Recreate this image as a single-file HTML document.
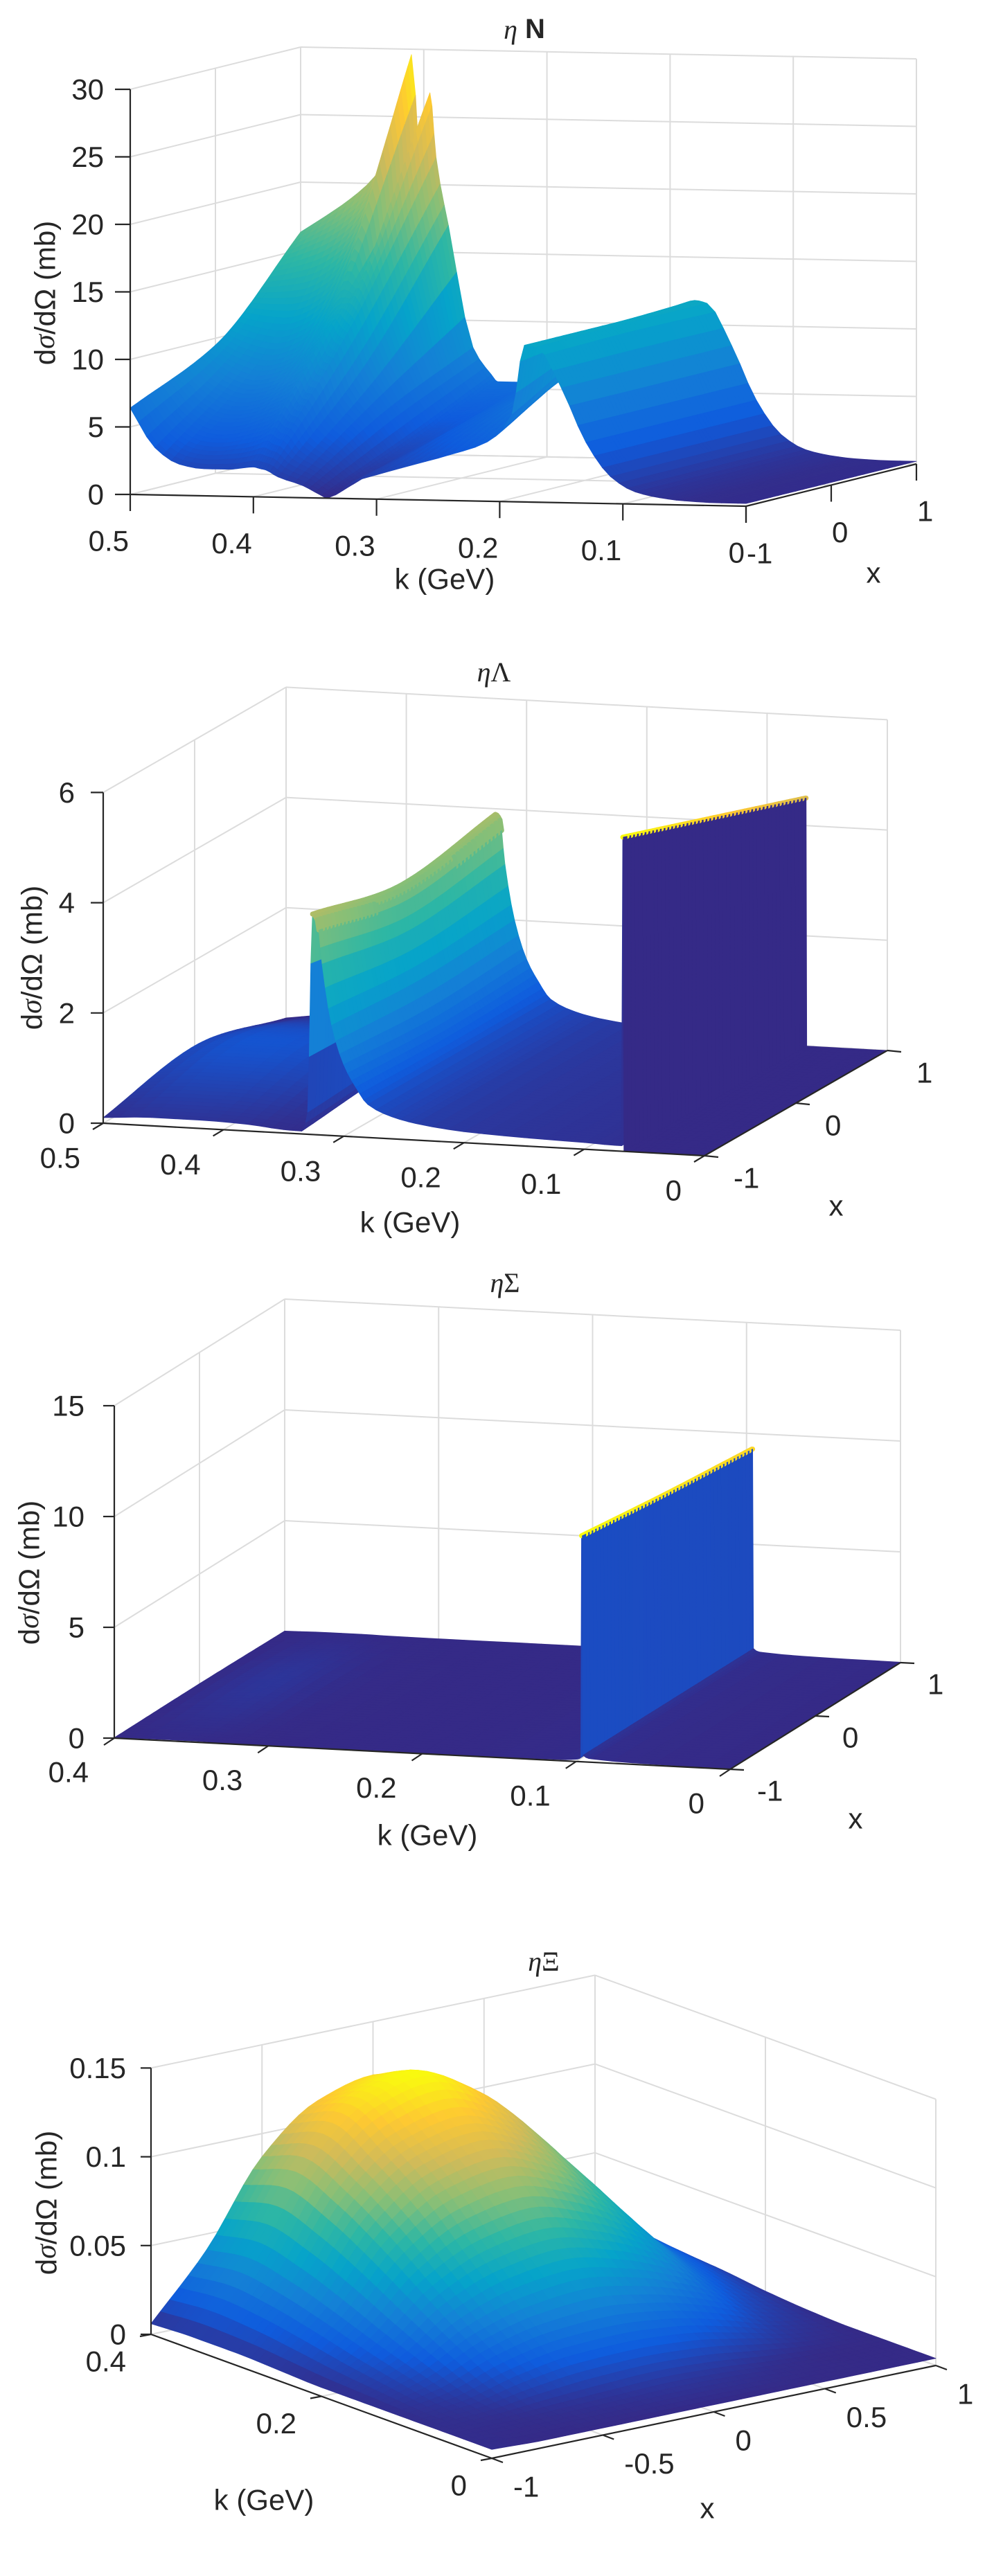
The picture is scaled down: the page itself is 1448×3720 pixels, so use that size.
<!DOCTYPE html>
<html><head><meta charset="utf-8"><title>Differential cross sections</title>
<style>
html,body{margin:0;padding:0;background:#fff;}
svg{display:block;}
text{font-family:"Liberation Sans",sans-serif;fill:#262626;}
</style></head>
<body>
<svg id="fig" width="1448" height="3720" viewBox="0 0 1448 3720" xmlns="http://www.w3.org/2000/svg">
<rect x="0" y="0" width="1448" height="3720" fill="#fff"/>
<g id="p1"></g>
<g id="p2"></g>
<g id="p3"></g>
<g id="p4"></g>
</svg>
<script>
// ---------- data: eta N ----------
const N_k = [0.5,0.48,0.46,0.44,0.42,0.41,0.40,0.395,0.39,0.38,0.36,0.345,0.34,0.32,0.30,0.27,0.24,0.21,0.19,0.18,0.17,0.15,0.13,0.11,0.09,0.07,0.05,0.02,0];
const N_x = [-1,0,1];
const N_zXm1 = [6.4,3.5,2.3,2.0,2.0,2.1,2.2,2.1,2.0,1.5,0.9,0.2,0.0,1.2,1.8,2.6,3.4,4.4,6.5,11.6,11.5,8.5,4.5,2.0,0.9,0.5,0.3,0.2,0.2];
const N_zX0  = [9.5,8.5,8,8.5,10,11,12,11.5,11,8,5,3,2.5,3,4,5.2,6.5,8,10,11.6,11.6,8.5,4.5,2,0.9,0.5,0.3,0.2,0.2];
const N_zX1  = [16.3,17.5,18.8,20.5,24,29.6,18,26.8,22,17,8,6,5.5,5.5,6,7,8.5,10,11.5,11.8,11.6,8.5,4.5,2,0.9,0.5,0.3,0.2,0.2];
const N_kTicks = [0.5,0.4,0.3,0.2,0.1,0];
const N_xTicks = [-1,0,1];
const N_zTicks = [0,5,10,15,20,25,30];
const N_kLabels = ['0.5','0.4','0.3','0.2','0.1','0'];
const N_xLabels = ['-1','0','1'];
const N_zLabels = ['0','5','10','15','20','25','30'];
// ---------- data: eta Lambda ----------
const L_k = [0.5,0.46,0.42,0.38,0.35,0.335,0.33,0.326,0.322,0.318,0.31,0.30,0.29,0.28,0.26,0.24,0.2,0.15,0.1,0.075,0.069,0.068,0.0675,0.067,0.05,0.03,0];
const L_x = [-1,0,1];
const L_zXm1 = [0.1,0.15,0.15,0.12,0.06,0.05,0.4,4.0,3.9,3.1,2.0,1.3,0.9,0.6,0.4,0.3,0.2,0.15,0.12,0.1,0.1,5.7,5.7,0.0,0.0,0,0];
const L_zX0  = [0.45,0.6,0.6,0.5,0.3,0.2,0.5,3.6,3.5,2.8,1.9,1.2,0.85,0.6,0.4,0.3,0.2,0.15,0.12,0.1,0.1,5.1,5.1,0,0,0,0];
const L_zX1  = [0.0,0.1,0.1,0.1,0.08,0.1,0.5,3.9,3.8,3.0,2.0,1.3,0.9,0.6,0.4,0.3,0.2,0.15,0.12,0.1,0.1,4.5,4.5,0,0,0,0];
const L_kTicks = [0.5,0.4,0.3,0.2,0.1,0];
const L_xTicks = [-1,0,1];
const L_zTicks = [0,2,4,6];
const L_kLabels = ['0.5','0.4','0.3','0.2','0.1','0'];
const L_xLabels = ['-1','0','1'];
const L_zLabels = ['0','2','4','6'];
// ---------- data: eta Sigma ----------
const S_k = [0.4,0.37,0.35,0.33,0.3,0.25,0.2,0.15,0.11,0.1,0.097,0.0965,0.096,0.0955,0.09,0.05,0];
const S_x = [-1,0,1];
const S_zXm1 = [0.02,0.05,0.05,0.03,0.02,0.02,0.02,0.03,0.05,0.1,0.2,10.2,10.2,0.3,0.15,0.05,0.02];
const S_zX0  = [0.05,0.25,0.3,0.2,0.05,0.02,0.02,0.03,0.05,0.1,0.2,9.7,9.7,0.3,0.15,0.05,0.02];
const S_zX1  = [0.02,0.05,0.05,0.03,0.02,0.02,0.02,0.03,0.05,0.1,0.2,9.3,9.3,0.3,0.15,0.05,0.02];
const S_kTicks = [0.4,0.3,0.2,0.1,0];
const S_xTicks = [-1,0,1];
const S_zTicks = [0,5,10,15];
const S_kLabels = ['0.4','0.3','0.2','0.1','0'];
const S_xLabels = ['-1','0','1'];
const S_zLabels = ['0','5','10','15'];
// ---------- data: eta Xi ----------
const X_k = [0.4,0.35,0.3,0.25,0.2,0.15,0.1,0.05,0];
const X_x = [-1,-0.75,-0.5,-0.25,0,0.25,0.5,0.75,1];
const X_zXm1   = [0.006,0.007,0.007,0.006,0.005,0.005,0.005,0.005,0.005];
const X_zXm075 = [0.041,0.045,0.040,0.032,0.023,0.015,0.008,0.005,0.004];
const X_zXm05  = [0.087,0.095,0.084,0.068,0.049,0.031,0.016,0.006,0.004];
const X_zXm025 = [0.112,0.122,0.107,0.088,0.063,0.040,0.021,0.007,0.004];
const X_zX0    = [0.120,0.130,0.114,0.094,0.068,0.043,0.022,0.008,0.004];
const X_zX025  = [0.106,0.115,0.101,0.083,0.060,0.038,0.020,0.007,0.004];
const X_zX05   = [0.078,0.085,0.075,0.061,0.044,0.028,0.014,0.005,0.004];
const X_zX075  = [0.037,0.040,0.035,0.029,0.021,0.013,0.007,0.004,0.004];
const X_zX1    = [0.013,0.014,0.012,0.010,0.007,0.005,0.004,0.004,0.004];
const X_kTicks = [0.4,0.2,0];
const X_xTicks = [-1,-0.5,0,0.5,1];
const X_zTicks = [0,0.05,0.1,0.15];
const X_kLabels = ['0.4','0.2','0'];
const X_xLabels = ['-1','-0.5','0','0.5','1'];
const X_zLabels = ['0','0.05','0.1','0.15'];

const NS = 'http://www.w3.org/2000/svg';
const PAR = [[0.2081,0.1663,0.5292],[0.0592,0.3599,0.8684],[0.0780,0.5041,0.8385],[0.0232,0.6419,0.7914],[0.1802,0.7178,0.6425],[0.5301,0.7492,0.4662],[0.8186,0.7328,0.3499],[0.9956,0.7862,0.1968],[0.9763,0.9831,0.0538]];
function parula(t){
  t = Math.max(0, Math.min(1, t));
  const f = t*(PAR.length-1); const i = Math.min(PAR.length-2, Math.floor(f)); const u = f-i;
  const c = PAR[i].map((v,j)=>Math.round(255*(v+(PAR[i+1][j]-v)*u)));
  return 'rgb('+c[0]+','+c[1]+','+c[2]+')';
}
function mk(tag, parent){ const e = document.createElementNS(NS, tag); parent.appendChild(e); return e; }

function mono(xs, ys){
  const n = xs.length;
  if(n < 2) return ()=>ys[0];
  const h = [], d = [];
  for(let i=0;i<n-1;i++){ h.push(xs[i+1]-xs[i]); d.push((ys[i+1]-ys[i])/(xs[i+1]-xs[i])); }
  const m = new Array(n);
  m[0] = d[0]; m[n-1] = d[n-2];
  for(let i=1;i<n-1;i++){
    if(d[i-1]*d[i] <= 0) m[i] = 0;
    else { const w1 = 2*h[i]+h[i-1], w2 = h[i]+2*h[i-1]; m[i] = (w1+w2)/(w1/d[i-1]+w2/d[i]); }
  }
  return function(x){
    let i = 0;
    for(i=0;i<n-2;i++){ const a=xs[i], b=xs[i+1]; if((x>=Math.min(a,b)) && (x<=Math.max(a,b))) break; }
    const hh = xs[i+1]-xs[i]; const t = (x-xs[i])/hh;
    const t2=t*t, t3=t2*t;
    return (2*t3-3*t2+1)*ys[i] + (t3-2*t2+t)*hh*m[i] + (-2*t3+3*t2)*ys[i+1] + (t3-t2)*hh*m[i+1];
  };
}

function makeProj(L){
  return function(k,x,z){
    const a = (L.kmax-k)/L.kmax, b = (x+1)/2;
    return [L.FL[0]+a*L.Kv[0]+b*L.Xv[0], L.FL[1]+a*L.Kv[1]+b*L.Xv[1]-z*L.zs];
  };
}

function drawPanel(gid, L, D){
  const g = document.getElementById(gid);
  const P = makeProj(L);
  const grid = mk('g', g);
  
  
  const zTop = D.zTicks[D.zTicks.length-1];
  function gl(p,q,name){
    const l = mk('line', grid);
    l.setAttribute('x1',p[0]); l.setAttribute('y1',p[1]); l.setAttribute('x2',q[0]); l.setAttribute('y2',q[1]);
    l.setAttribute('stroke','#dcdcdc'); l.setAttribute('stroke-width','2');
    
    
  }
  D.zTicks.forEach(z=>{ gl(P(L.kmax,-1,z),P(L.kmax,1,z),'z-gridline'); gl(P(L.kmax,1,z),P(0,1,z),'z-gridline'); });
  D.kTicks.forEach(k=>{ gl(P(k,1,0),P(k,1,zTop),'k-gridline'); gl(P(k,-1,0),P(k,1,0),'k-gridline'); });
  D.xTicks.forEach(x=>{ gl(P(L.kmax,x,0),P(L.kmax,x,zTop),'x-gridline'); gl(P(L.kmax,x,0),P(0,x,0),'x-gridline'); });

  const surf = mk('g', g);
  
  
  let zmin = Infinity, zmax = -Infinity;
  D.rows.forEach(r=>r.forEach(v=>{ if(v<zmin) zmin=v; if(v>zmax) zmax=v; }));
  const fk = [];
  for(let j=0;j<D.ks.length-1;j++){
    const span = Math.abs(D.ks[j+1]-D.ks[j]);
    const m = span < 0.0025 ? 1 : L.ksub;
    for(let s=0;s<m;s++) fk.push(D.ks[j]+(D.ks[j+1]-D.ks[j])*s/m);
  }
  fk.push(D.ks[D.ks.length-1]);
  const rowsK = D.rows.map(r=>{ const f = mono(D.ks, r); return fk.map(k=>f(k)); });
  const fx = [];
  for(let j=0;j<D.xs.length-1;j++){
    for(let s=0;s<L.nsub;s++) fx.push(D.xs[j]+(D.xs[j+1]-D.xs[j])*s/L.nsub);
  }
  fx.push(D.xs[D.xs.length-1]);
  const fz = fx.map(()=>new Array(fk.length));
  for(let c=0;c<fk.length;c++){
    const f = mono(D.xs, rowsK.map(r=>r[c]));
    for(let i=0;i<fx.length;i++) fz[i][c] = f(fx[i]);
  }
  const quads = [];
  for(let i=0;i<fx.length-1;i++){
    for(let j=0;j<fk.length-1;j++){
      const c = [[fk[j],fx[i],fz[i][j]],[fk[j+1],fx[i],fz[i][j+1]],[fk[j+1],fx[i+1],fz[i+1][j+1]],[fk[j],fx[i+1],fz[i+1][j]]];
      const zz = c.map(p=>p[2]);
      const lo = Math.min(...zz), hi = Math.max(...zz);
      const cv = lo + L.bias*(hi-lo);
      const depth = P((fk[j]+fk[j+1])/2,(fx[i]+fx[i+1])/2,0)[1];
      const top = L.fringe && (hi-lo) < 0.1*zmax && lo > 0.6*zmax;
      quads.push({c:c, col:parula((cv-zmin)/(zmax-zmin)), d:depth, top:top});
    }
  }
  quads.sort((a,b)=>a.d-b.d);
  quads.forEach(q=>{
    const pg = mk('polygon', surf);
    pg.setAttribute('points', q.c.map(p=>{const s=P(p[0],p[1],p[2]); return s[0].toFixed(1)+','+s[1].toFixed(1);}).join(' '));
    pg.setAttribute('fill', q.col); pg.setAttribute('stroke', q.col);
    pg.setAttribute('stroke-width', q.top ? '7' : '0.8');
    pg.setAttribute('stroke-linejoin','round');
    
    
  });

  const ax = mk('g', g);
  
  
  function al(p,q,name){
    const l = mk('line', ax);
    l.setAttribute('x1',p[0]); l.setAttribute('y1',p[1]); l.setAttribute('x2',q[0]); l.setAttribute('y2',q[1]);
    l.setAttribute('stroke','#262626'); l.setAttribute('stroke-width','2.2');
    
    
  }
  al(P(L.kmax,-1,0),P(0,-1,0),'k-axis-line');
  al(P(0,-1,0),P(0,1,0),'x-axis-line');
  al(P(L.kmax,-1,0),P(L.kmax,-1,zTop),'z-axis-line');
  function tx(s,p,anchor,name){
    const t = mk('text', ax);
    t.textContent = s;
    t.setAttribute('x',p[0].toFixed(1)); t.setAttribute('y',p[1].toFixed(1));
    t.setAttribute('text-anchor',anchor); t.setAttribute('dominant-baseline','central');
    t.setAttribute('font-size','42');
    
    
  }
  D.kTicks.forEach((k,i)=>{
    const p = P(k,-1,0);
    al(p,[p[0]+L.kt[0],p[1]+L.kt[1]],'k-tick');
    tx(D.kLabels[i],[p[0]+L.kl[0],p[1]+L.kl[1]],L.kla,'k-tick-label');
  });
  D.xTicks.forEach((x,i)=>{
    const p = P(0,x,0);
    al(p,[p[0]+L.xt[0],p[1]+L.xt[1]],'x-tick');
    tx(D.xLabels[i],[p[0]+L.xl[0],p[1]+L.xl[1]],'start','x-tick-label');
  });
  D.zTicks.forEach((z,i)=>{
    const p = P(L.kmax,-1,z);
    al(p,[p[0]+L.zt,p[1]],'z-tick');
    tx(D.zLabels[i],[p[0]+L.zl,p[1]],'end','z-tick-label');
  });
  tx('k (GeV)',L.kTitle,'middle','k-axis-title');
  tx('x',L.xTitle,'middle','x-axis-title');
  const yt = mk('text', ax);
  yt.setAttribute('transform','translate('+L.yTitle[0]+','+L.yTitle[1]+') rotate(-90)');
  yt.setAttribute('text-anchor','middle'); yt.setAttribute('dominant-baseline','central');
  yt.setAttribute('font-size','42');
  
  
  yt.innerHTML = 'd<tspan font-family="Liberation Serif, serif" font-style="italic">σ</tspan>/dΩ (mb)';
  const tt = mk('text', ax);
  tt.setAttribute('x',L.title[0]); tt.setAttribute('y',L.title[1]);
  tt.setAttribute('text-anchor','middle'); tt.setAttribute('dominant-baseline','central');
  tt.setAttribute('font-size','40');
  
  
  tt.innerHTML = L.titleHTML;
}

drawPanel('p1',
  {FL:[188,714],Kv:[889,17],Xv:[246,-61],zs:19.5,kmax:0.5,nsub:24,ksub:3,bias:0.5,fringe:false,
   kt:[0,24],xt:[0,24],zt:-22,kl:[-2,67],kla:'end',xl:[1,68],zl:-38,
   kTitle:[642,836],xTitle:[1261,827],yTitle:[65,423],title:[757,42],
   titleHTML:'<tspan font-family="Liberation Serif, serif" font-style="italic">η</tspan> <tspan font-weight="bold">N</tspan>'},
  {ks:N_k,xs:N_x,rows:[N_zXm1,N_zX0,N_zX1],kTicks:N_kTicks,xTicks:N_xTicks,zTicks:N_zTicks,kLabels:N_kLabels,xLabels:N_xLabels,zLabels:N_zLabels});
drawPanel('p2',
  {FL:[149,1622],Kv:[868,47],Xv:[264,-152],zs:79.6,kmax:0.5,nsub:24,ksub:3,bias:0,fringe:true,
   kt:[-15,9],xt:[20,2],zt:-18,kl:[-33,50],kla:'end',xl:[42,32],zl:-41,
   kTitle:[592,1765],xTitle:[1207,1741],yTitle:[46,1383],title:[713,970],
   titleHTML:'<tspan font-family="Liberation Serif, serif"><tspan font-style="italic">η</tspan>Λ</tspan>'},
  {ks:L_k,xs:L_x,rows:[L_zXm1,L_zX0,L_zX1],kTicks:L_kTicks,xTicks:L_xTicks,zTicks:L_zTicks,kLabels:L_kLabels,xLabels:L_xLabels,zLabels:L_zLabels});
drawPanel('p3',
  {FL:[165,2510],Kv:[889,45],Xv:[246,-154],zs:32,kmax:0.4,nsub:24,ksub:3,bias:0.06,fringe:true,
   kt:[-15,10],xt:[20,1],zt:-16,kl:[-37,49],kla:'end',xl:[39,31],zl:-43,
   kTitle:[617,2650],xTitle:[1235,2626],yTitle:[42,2271],title:[729,1852],
   titleHTML:'<tspan font-family="Liberation Serif, serif"><tspan font-style="italic">η</tspan>Σ</tspan>'},
  {ks:S_k,xs:S_x,rows:[S_zXm1,S_zX0,S_zX1],kTicks:S_kTicks,xTicks:S_xTicks,zTicks:S_zTicks,kLabels:S_kLabels,xLabels:S_xLabels,zLabels:S_zLabels});
drawPanel('p4',
  {FL:[218,3371],Kv:[492,179],Xv:[641,-134],zs:2564,kmax:0.4,nsub:6,ksub:6,bias:0.5,fringe:false,
   kt:[-16,3],xt:[16,6],zt:-15,kl:[-36,39],kla:'end',xl:[31,41],zl:-36,
   kTitle:[381,3610],xTitle:[1021,3622],yTitle:[67,3181],title:[785,2832],
   titleHTML:'<tspan font-family="Liberation Serif, serif"><tspan font-style="italic">η</tspan>Ξ</tspan>'},
  {ks:X_k,xs:X_x,rows:[X_zXm1,X_zXm075,X_zXm05,X_zXm025,X_zX0,X_zX025,X_zX05,X_zX075,X_zX1],kTicks:X_kTicks,xTicks:X_xTicks,zTicks:X_zTicks,kLabels:X_kLabels,xLabels:X_xLabels,zLabels:X_zLabels});
</script>
</body></html>
